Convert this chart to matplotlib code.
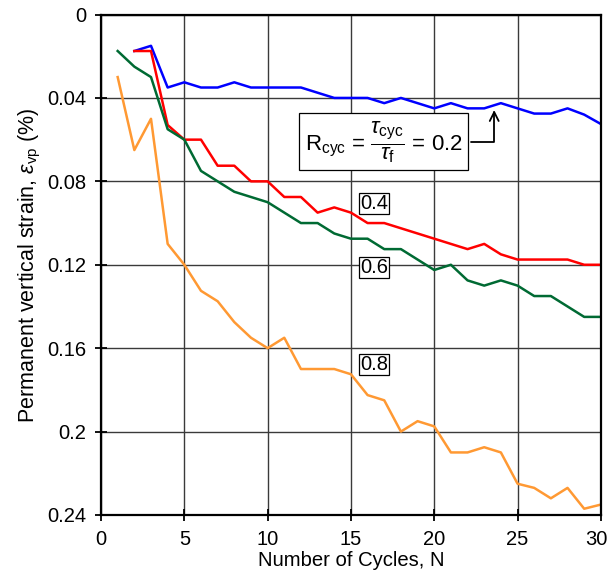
import matplotlib
matplotlib.use("Agg")
import matplotlib.pyplot as plt
import matplotlib.transforms as mtransforms

plt.rcParams["font.family"] = ["Liberation Sans", "DejaVu Sans"]
plt.rcParams["mathtext.fontset"] = "custom"
plt.rcParams["mathtext.rm"] = "Liberation Sans"
plt.rcParams["mathtext.it"] = "Liberation Sans:italic"

# Data (strain in %, y axis inverted)
cycles_02 = list(range(2, 31))
strain_02 = [0.0175, 0.015, 0.035, 0.0325, 0.035, 0.035, 0.0325, 0.035, 0.035, 0.035,
             0.035, 0.0375, 0.04, 0.04, 0.04, 0.0425, 0.04, 0.0425, 0.045, 0.0425,
             0.045, 0.045, 0.0425, 0.045, 0.0475, 0.0475, 0.045, 0.048, 0.0525]

cycles_04 = list(range(2, 31))
strain_04 = [0.0175, 0.0175, 0.053, 0.06, 0.06, 0.0725, 0.0725, 0.08, 0.08, 0.0875,
             0.0875, 0.095, 0.0925, 0.095, 0.1, 0.1, 0.1025, 0.105, 0.1075, 0.11,
             0.1125, 0.11, 0.115, 0.1175, 0.1175, 0.1175, 0.1175, 0.12, 0.12]

cycles_06 = list(range(1, 31))
strain_06 = [0.0175, 0.025, 0.03, 0.055, 0.06, 0.075, 0.08, 0.085, 0.0875, 0.09,
             0.095, 0.1, 0.1, 0.105, 0.1075, 0.1075, 0.1125, 0.1125, 0.1175, 0.1225,
             0.12, 0.1275, 0.13, 0.1275, 0.13, 0.135, 0.135, 0.14, 0.145, 0.145]

cycles_08 = list(range(1, 31))
strain_08 = [0.03, 0.065, 0.05, 0.11, 0.12, 0.1325, 0.1375, 0.1475, 0.155, 0.16,
             0.155, 0.17, 0.17, 0.17, 0.1725, 0.1825, 0.185, 0.2, 0.195, 0.1975,
             0.21, 0.21, 0.2075, 0.21, 0.225, 0.227, 0.232, 0.227, 0.237, 0.235]

y_ticks = [0, 0.04, 0.08, 0.12, 0.16, 0.2, 0.24]
y_tick_labels = ["0", "0.04", "0.08", "0.12", "0.16", "0.2", "0.24"]
x_ticks = [0, 5, 10, 15, 20, 25, 30]

fig = plt.figure(figsize=(6.1, 5.81), dpi=100)
ax = fig.add_axes([0.1656, 0.1136, 0.8194, 0.8614])

ax.plot(cycles_02, strain_02, color="#0000ff", lw=1.8)
ax.plot(cycles_04, strain_04, color="#ff0000", lw=1.8)
ax.plot(cycles_06, strain_06, color="#006a33", lw=1.8)
ax.plot(cycles_08, strain_08, color="#ff9933", lw=1.8)

ax.set_xlim(0, 30)
ax.set_ylim(0.24, 0)
ax.set_xticks(x_ticks)
ax.set_yticks(y_ticks)
ax.set_yticklabels(y_tick_labels)
ax.grid(True, color="#3a3a3a", lw=1.0)
ax.set_axisbelow(True)
for s in ax.spines.values():
    s.set_linewidth(1.6)
ax.tick_params(direction="inout", length=9, width=1.3, labelsize=14.5, pad=6)

# keep the last x label inside the figure
last = ax.get_xticklabels()[-1]
last.set_transform(last.get_transform() + mtransforms.ScaledTranslation(-4 / 100, 0, fig.dpi_scale_trans))

ax.set_xlabel("Number of Cycles, N", fontsize=14.6, labelpad=2)
ax.set_ylabel(r"Permanent vertical strain, $\varepsilon_{\rm vp}$ (%)", fontsize=15.5, labelpad=3)

box = dict(boxstyle="square,pad=0.05", fc="white", ec="black", lw=0.9)
ax.text(16.4, 0.0905, "0.4", fontsize=14.5, ha="center", va="center", bbox=box)
ax.text(16.4, 0.1215, "0.6", fontsize=14.5, ha="center", va="center", bbox=box)
ax.text(16.4, 0.168, "0.8", fontsize=14.5, ha="center", va="center", bbox=box)

ax.annotate(r"R$_{\rm cyc}$ = $\dfrac{\tau_{\rm cyc}}{\tau_{\rm f}}$ = 0.2",
            xy=(23.6, 0.0445), xytext=(16.95, 0.061), fontsize=16,
            ha="center", va="center",
            bbox=dict(boxstyle="square,pad=0.25", fc="white", ec="black", lw=0.9),
            arrowprops=dict(arrowstyle="->", color="black", lw=1.3,
                            connectionstyle="angle,angleA=0,angleB=90,rad=0"))

fig.savefig("out.png", dpi=100)
